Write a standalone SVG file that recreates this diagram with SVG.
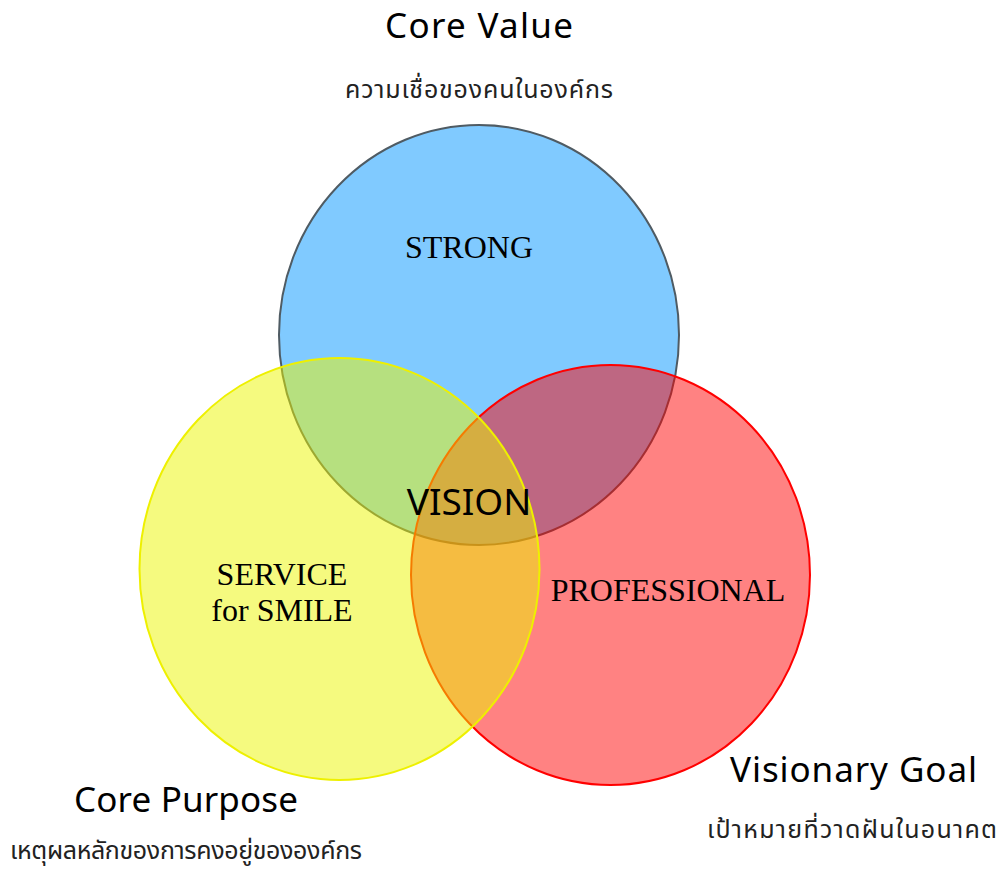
<svg xmlns="http://www.w3.org/2000/svg" width="1000" height="875" viewBox="0 0 1000 875">
<style>
.h{font-family:"Noto Sans","Liberation Sans",sans-serif;font-size:35px;fill:#000;text-anchor:middle}
.th{font-family:"Noto Sans","Noto Sans Thai","Liberation Sans",sans-serif;font-size:25px;fill:#222;text-anchor:middle}
.s{font-family:"Liberation Serif",serif;font-size:32px;fill:#000;text-anchor:middle}
.v{font-family:"Noto Sans","Liberation Sans",sans-serif;font-size:37px;fill:#000;text-anchor:middle}
</style>
<rect width="1000" height="875" fill="#fff"/>
<g id="core-value">
<ellipse cx="479" cy="335" rx="200" ry="210" fill="#80caff" stroke="#4f5b63" stroke-width="2"/>
<text class="s" x="469" y="258">STRONG</text>
</g>
<g id="visionary-goal">
<ellipse cx="610.5" cy="575" rx="199.5" ry="210" fill="#ff0000" fill-opacity="0.49" stroke="#ff0000" stroke-width="2"/>
<text class="s" x="668" y="601">PROFESSIONAL</text>
</g>
<g id="core-purpose">
<ellipse cx="339.5" cy="569" rx="200" ry="211" fill="#ebf500" fill-opacity="0.5" stroke="#eef000" stroke-width="2"/>
<text class="s" x="282" y="585">SERVICE</text>
<text class="s" x="282" y="621">for SMILE</text>
</g>
<g id="vision">
<text class="v" x="469" y="515">VISION</text>
</g>
<g id="labels">
<text class="h" x="479" y="38" textLength="188">Core Value</text>
<text class="th" x="479" y="98" textLength="268">ความเชื่อของคนในองค์กร</text>
<text class="h" x="186" y="812" textLength="224">Core Purpose</text>
<text class="th" x="186" y="859" textLength="352">เหตุผลหลักของการคงอยู่ขององค์กร</text>
<text class="h" x="853.5" y="782" textLength="247">Visionary Goal</text>
<text class="th" x="852" y="838" textLength="290">เป้าหมายที่วาดฝันในอนาคต</text>
</g>
<g id="connectors"/>
</svg>
